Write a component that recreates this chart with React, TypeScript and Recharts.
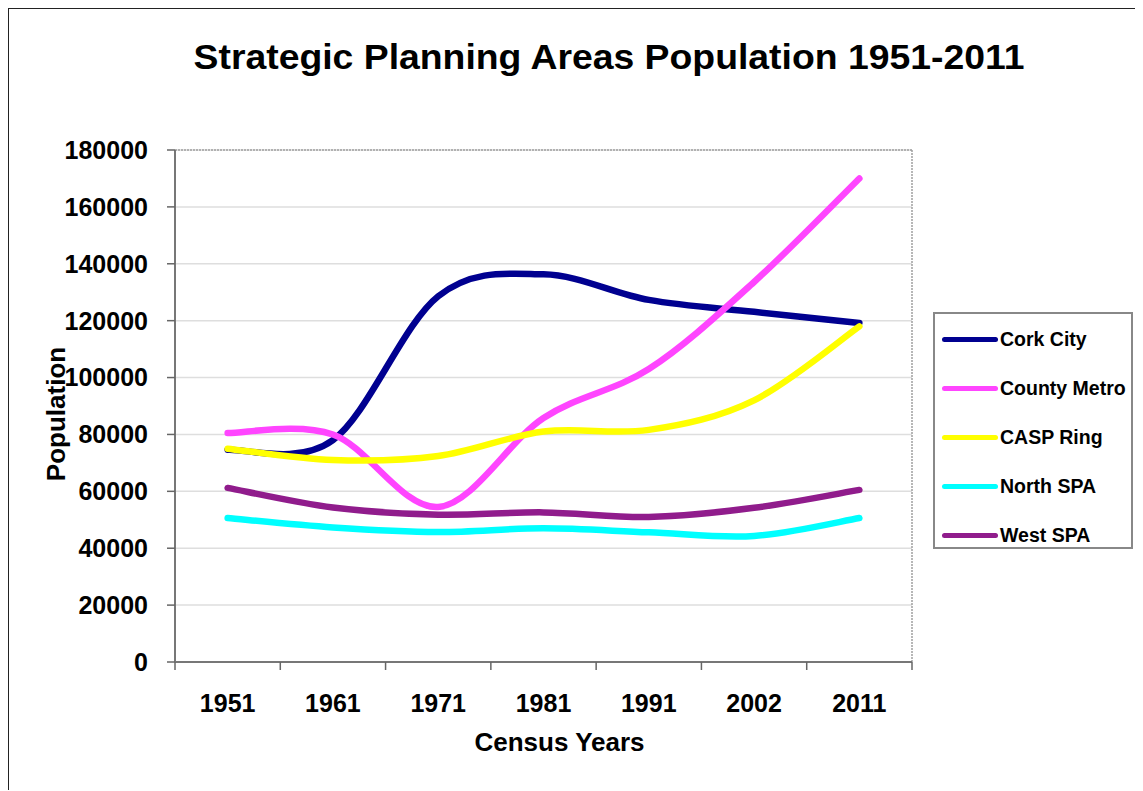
import React from 'react';
import { LineChart, Line, XAxis, YAxis, CartesianGrid } from 'recharts';

const YEARS = ['1951', '1961', '1971', '1981', '1991', '2002', '2011'];
const CORK_CITY = [74600, 78000, 128600, 136300, 127300, 123100, 119200];
const COUNTY_METRO = [80500, 80000, 54500, 85800, 103000, 133600, 170000];
const CASP_RING = [75000, 71000, 72400, 81000, 81600, 92000, 118000];
const NORTH_SPA = [50600, 47300, 45700, 47000, 45600, 44300, 50600];
const WEST_SPA = [61200, 54300, 51800, 52600, 51000, 54200, 60500];
const Y_TICKS = [0, 20000, 40000, 60000, 80000, 100000, 120000, 140000, 160000, 180000];

const SERIES = [
  { key: 'Cork City', values: CORK_CITY, color: '#000090' },
  { key: 'County Metro', values: COUNTY_METRO, color: '#ff45ff' },
  { key: 'CASP Ring', values: CASP_RING, color: '#ffff00' },
  { key: 'North SPA', values: NORTH_SPA, color: '#00ffff' },
  { key: 'West SPA', values: WEST_SPA, color: '#901c8c' },
];

const chartData = YEARS.map((year, i) => {
  const row: Record<string, any> = { year };
  SERIES.forEach(s => {
    row[s.key] = s.values[i];
  });
  return row;
});

const FONT = '"Liberation Sans", Arial, sans-serif';
const W = 1135;
const H = 783;
const MARGIN = { top: 142, right: 231, bottom: 69, left: 67 };
const Y_AXIS_W = 100;
const X_AXIS_H = 60;
const PLOT_W = W - MARGIN.left - MARGIN.right - Y_AXIS_W;
const BAND = PLOT_W / YEARS.length;

// Excel-style smoothed line (Catmull-Rom through every point)
const excelSmooth = (context: any) => {
  let pts: number[][] = [];
  return {
    areaStart() {},
    areaEnd() {},
    lineStart() {
      pts = [];
    },
    point(x: number, y: number) {
      pts.push([+x, +y]);
    },
    lineEnd() {
      const n = pts.length;
      if (!n) return;
      context.moveTo(pts[0][0], pts[0][1]);
      for (let i = 0; i < n - 1; i++) {
        const p0 = pts[i - 1] || pts[i];
        const p1 = pts[i];
        const p2 = pts[i + 1];
        const p3 = pts[i + 2] || p2;
        context.bezierCurveTo(
          p1[0] + (p2[0] - p0[0]) / 6,
          p1[1] + (p2[1] - p0[1]) / 6,
          p2[0] - (p3[0] - p1[0]) / 6,
          p2[1] - (p3[1] - p1[1]) / 6,
          p2[0],
          p2[1]
        );
      }
    },
  };
};

const XTick = (props: any) => {
  const { x, y, payload, index } = props;
  return (
    <g>
      {index === 0 && (
        <line x1={x - BAND / 2} x2={x - BAND / 2} y1={y} y2={y + 8} stroke="#666" strokeWidth={1.5} />
      )}
      <line x1={x + BAND / 2} x2={x + BAND / 2} y1={y} y2={y + 8} stroke="#666" strokeWidth={1.5} />
      <text x={x} y={y + 50} textAnchor="middle" fontFamily={FONT} fontWeight="bold" fontSize={25} fill="#000">
        {payload.value}
      </text>
    </g>
  );
};

export default function App() {
  return (
    <div
      style={{
        position: 'relative',
        width: W - 2,
        height: H - 2,
        marginLeft: -1,
        marginTop: -1,
        borderLeft: '2px solid #222',
        borderTop: '2px solid #222',
        fontFamily: FONT,
        background: '#fff',
      }}
    >
      <div
        style={{
          position: 'absolute',
          left: 599.5,
          top: 30,
          transform: 'translateX(-50%) scaleX(1.067)',
          whiteSpace: 'nowrap',
          fontSize: 35,
          lineHeight: 1,
          fontWeight: 'bold',
          color: '#000',
        }}
      >
        Strategic Planning Areas Population 1951-2011
      </div>

      <LineChart
        width={W}
        height={H}
        data={chartData}
        margin={MARGIN}
        style={{ position: 'absolute', left: -1, top: -1 }}
      >
        <CartesianGrid vertical={false} stroke="#dedede" strokeWidth={1.5} />
        <CartesianGrid
          horizontal={false}
          verticalCoordinatesGenerator={({ offset }: any) => [offset.left + offset.width]}
          stroke="#a0a0a0"
          strokeDasharray="2 1"
          strokeWidth={1.5}
        />
        <CartesianGrid
          vertical={false}
          horizontalCoordinatesGenerator={({ offset }: any) => [offset.top]}
          stroke="#a0a0a0"
          strokeDasharray="2 1"
          strokeWidth={1.5}
        />
        <XAxis
          dataKey="year"
          height={X_AXIS_H}
          padding={{ left: BAND / 2, right: BAND / 2 }}
          axisLine={{ stroke: '#777', strokeWidth: 2 }}
          tickLine={false}
          tickSize={0}
          tickMargin={0}
          interval={0}
          tick={<XTick />}
        />
        <YAxis
          width={Y_AXIS_W}
          domain={[0, 180000]}
          ticks={Y_TICKS}
          interval={0}
          axisLine={{ stroke: '#777', strokeWidth: 2 }}
          tickLine={{ stroke: '#666', strokeWidth: 1.5 }}
          tickSize={8}
          tickMargin={19}
          tick={{ fill: '#000', fontFamily: FONT, fontWeight: 'bold', fontSize: 25 }}
        />
        {SERIES.map(s => (
          <Line
            key={s.key}
            dataKey={s.key}
            type={excelSmooth as any}
            stroke={s.color}
            strokeWidth={6.5}
            strokeLinecap="round"
            dot={false}
            activeDot={false}
            isAnimationActive={false}
          />
        ))}
      </LineChart>

      <div
        style={{
          position: 'absolute',
          left: 47,
          top: 405,
          transform: 'translate(-50%, -50%) rotate(-90deg)',
          whiteSpace: 'nowrap',
          fontSize: 26,
          lineHeight: 1,
          fontWeight: 'bold',
        }}
      >
        Population
      </div>
      <div
        style={{
          position: 'absolute',
          left: 550.5,
          top: 733,
          transform: 'translate(-50%, -50%)',
          whiteSpace: 'nowrap',
          fontSize: 26,
          lineHeight: 1,
          fontWeight: 'bold',
        }}
      >
        Census Years
      </div>

      <div
        style={{
          position: 'absolute',
          left: 924,
          top: 303,
          width: 200,
          height: 237,
          border: '2px solid #888',
          paddingTop: 1,
          boxSizing: 'border-box',
        }}
      >
        {SERIES.map(s => (
          <div key={s.key} style={{ display: 'flex', alignItems: 'center', height: 49 }}>
            <div
              style={{
                marginLeft: 7,
                width: 56,
                height: 5,
                borderRadius: 3,
                background: s.color,
              }}
            />
            <span style={{ marginLeft: 2, fontSize: 19.5, fontWeight: 'bold', whiteSpace: 'nowrap' }}>{s.key}</span>
          </div>
        ))}
      </div>
    </div>
  );
}
